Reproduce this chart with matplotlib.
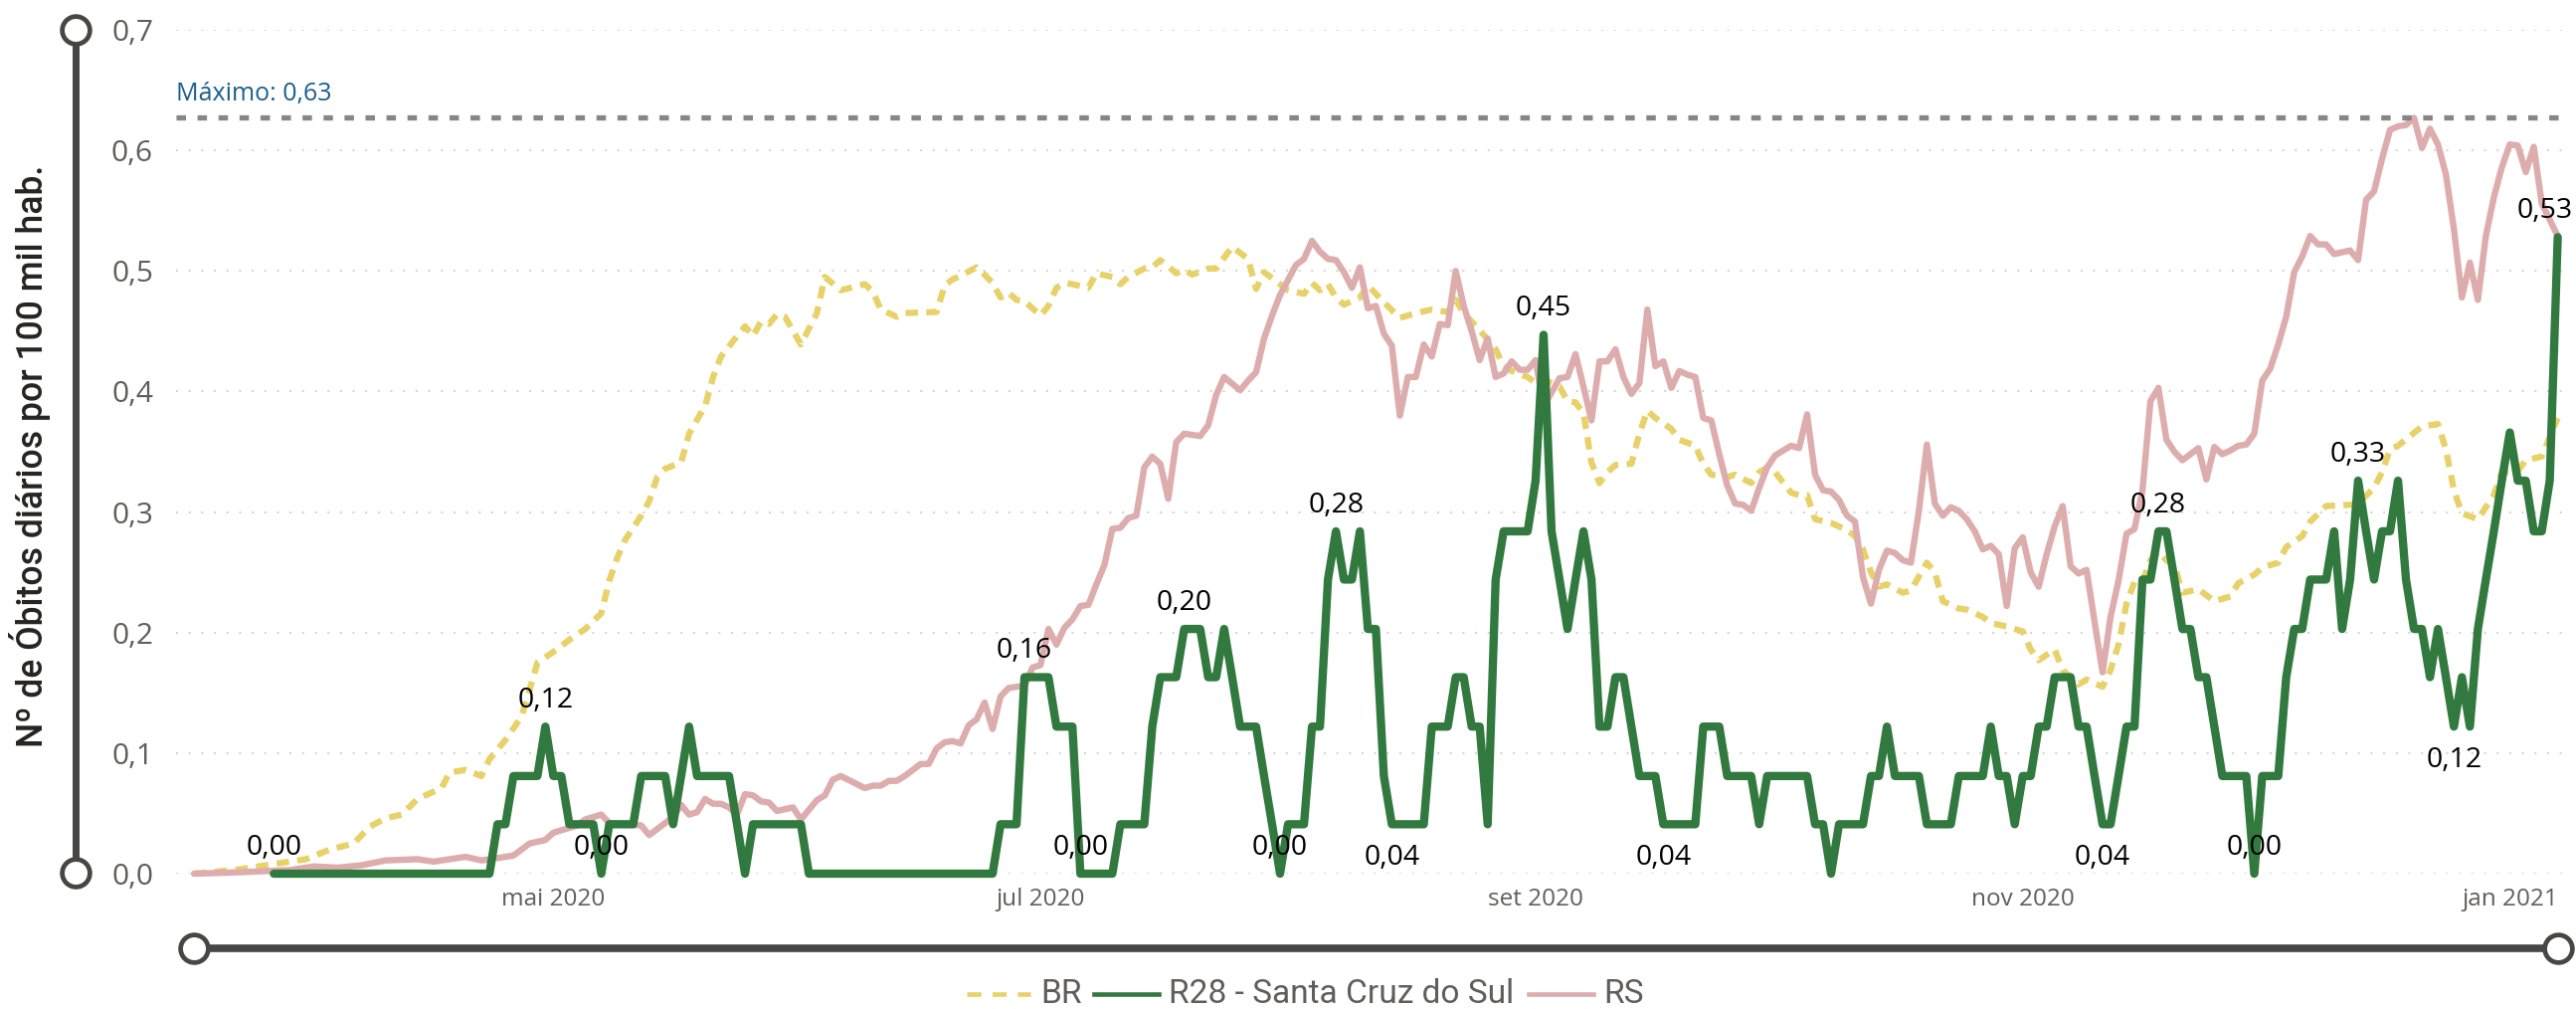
import matplotlib
matplotlib.use("Agg")
import matplotlib.pyplot as plt
from matplotlib.lines import Line2D
import numpy as np

W, H = 2590, 1014
START = np.datetime64("2020-03-17")

# ---------------- data ----------------
# R28 - Santa Cruz do Sul: daily values starting 2020-03-27 (day 10 after START)
r28_first_day = 10
r28 = [
    0, 0, 0, 0, 0, 0, 0, 0, 0, 0,
    0, 0, 0, 0, 0, 0, 0, 0, 0, 0,
    0, 0, 0, 0, 0, 0, 0, 0, 0.041, 0.041,
    0.081, 0.081, 0.081, 0.081, 0.122, 0.081, 0.081, 0.041, 0.041, 0.041,
    0.041, 0, 0.041, 0.041, 0.041, 0.041, 0.081, 0.081, 0.081, 0.081,
    0.041, 0.081, 0.122, 0.081, 0.081, 0.081, 0.081, 0.081, 0.041, 0,
    0.041, 0.041, 0.041, 0.041, 0.041, 0.041, 0.041, 0, 0, 0,
    0, 0, 0, 0, 0, 0, 0, 0, 0, 0,
    0, 0, 0, 0, 0, 0, 0, 0, 0, 0,
    0, 0.041, 0.041, 0.041, 0.163, 0.163, 0.163, 0.163, 0.122, 0.122,
    0.122, 0, 0, 0, 0, 0, 0.041, 0.041, 0.041, 0.041,
    0.122, 0.163, 0.163, 0.163, 0.203, 0.203, 0.203, 0.163, 0.163, 0.203,
    0.163, 0.122, 0.122, 0.122, 0.081, 0.041, 0, 0.041, 0.041, 0.041,
    0.122, 0.122, 0.244, 0.284, 0.244, 0.244, 0.284, 0.203, 0.203, 0.081,
    0.041, 0.041, 0.041, 0.041, 0.041, 0.122, 0.122, 0.122, 0.163, 0.163,
    0.122, 0.122, 0.041, 0.244, 0.284, 0.284, 0.284, 0.284, 0.326, 0.447,
    0.284, 0.244, 0.203, 0.244, 0.284, 0.244, 0.122, 0.122, 0.163, 0.163,
    0.122, 0.081, 0.081, 0.081, 0.041, 0.041, 0.041, 0.041, 0.041, 0.122,
    0.122, 0.122, 0.081, 0.081, 0.081, 0.081, 0.041, 0.081, 0.081, 0.081,
    0.081, 0.081, 0.081, 0.041, 0.041, 0, 0.041, 0.041, 0.041, 0.041,
    0.081, 0.081, 0.122, 0.081, 0.081, 0.081, 0.081, 0.041, 0.041, 0.041,
    0.041, 0.081, 0.081, 0.081, 0.081, 0.122, 0.081, 0.081, 0.041, 0.081,
    0.081, 0.122, 0.122, 0.163, 0.163, 0.163, 0.122, 0.122, 0.081, 0.041,
    0.041, 0.081, 0.122, 0.122, 0.244, 0.244, 0.284, 0.284, 0.244, 0.203,
    0.203, 0.163, 0.163, 0.122, 0.081, 0.081, 0.081, 0.081, 0, 0.081,
    0.081, 0.081, 0.163, 0.203, 0.203, 0.244, 0.244, 0.244, 0.284, 0.203,
    0.244, 0.326, 0.284, 0.244, 0.284, 0.284, 0.326, 0.244, 0.203, 0.203,
    0.163, 0.203, 0.163, 0.122, 0.163, 0.122, 0.203, 0.244, 0.284, 0.326,
    0.366, 0.326, 0.326, 0.284, 0.284, 0.326, 0.528,
]

# BR: (days after START, value)
br_day = [0, 5, 10, 14, 17, 20, 22, 24, 26, 28, 31, 32, 34, 36, 37, 39, 41, 42, 43, 45,
          47, 49, 51, 52, 53, 54, 56, 57, 58, 59, 61, 62, 64, 65, 66, 68, 69, 70, 71, 72,
          73, 74, 76, 78, 79, 81, 84, 85, 86, 88, 89, 93, 94, 95, 96, 98, 99, 100, 101, 102,
          103, 104, 106, 107, 108, 109, 110, 112, 113, 115, 116, 117, 119, 120, 121, 122, 123, 124, 125, 127,
          128, 130, 132, 133, 134, 136, 137, 139, 140, 141, 142, 143, 144, 146, 147, 149, 151, 153, 155, 157,
          158, 159, 160, 161, 163, 164, 165, 167, 168, 169, 171, 172, 173, 174, 175, 176, 177, 178, 180, 181,
          182, 183, 185, 186, 188, 189, 190, 192, 193, 195, 196, 197, 198, 200, 201, 202, 203, 205, 207, 208,
          209, 210, 211, 212, 214, 215, 217, 218, 219, 221, 222, 224, 225, 227, 229, 230, 231, 233, 234, 236,
          237, 239, 240, 241, 242, 243, 244, 245, 246, 247, 248, 249, 251, 253, 255, 256, 258, 259, 261, 262,
          264, 265, 267, 270, 271, 273, 274, 275, 276, 279, 281, 282, 283, 284, 286, 288, 289, 291, 292, 294,
          296]
br_val = [0.000, 0.003, 0.008, 0.012, 0.020, 0.025, 0.039, 0.046, 0.049, 0.062, 0.071, 0.084, 0.086, 0.081, 0.095, 0.111, 0.130, 0.152, 0.175, 0.184,
          0.194, 0.203, 0.216, 0.243, 0.262, 0.277, 0.297, 0.309, 0.329, 0.336, 0.341, 0.365, 0.388, 0.412, 0.429, 0.446, 0.454, 0.446, 0.458, 0.456,
          0.464, 0.462, 0.439, 0.465, 0.495, 0.484, 0.489, 0.483, 0.468, 0.462, 0.465, 0.466, 0.488, 0.493, 0.496, 0.503, 0.497, 0.490, 0.478, 0.482,
          0.476, 0.475, 0.463, 0.471, 0.486, 0.490, 0.489, 0.486, 0.498, 0.495, 0.489, 0.495, 0.502, 0.503, 0.509, 0.504, 0.498, 0.501, 0.497, 0.502,
          0.502, 0.520, 0.510, 0.485, 0.499, 0.489, 0.484, 0.481, 0.490, 0.484, 0.489, 0.478, 0.472, 0.478, 0.488, 0.474, 0.461, 0.465, 0.468, 0.466,
          0.476, 0.465, 0.458, 0.451, 0.435, 0.421, 0.417, 0.412, 0.407, 0.410, 0.404, 0.392, 0.391, 0.382, 0.341, 0.324, 0.333, 0.339, 0.340, 0.365,
          0.384, 0.378, 0.369, 0.360, 0.355, 0.340, 0.331, 0.329, 0.331, 0.324, 0.333, 0.337, 0.333, 0.316, 0.314, 0.314, 0.294, 0.291, 0.285, 0.280,
          0.269, 0.250, 0.238, 0.240, 0.233, 0.235, 0.258, 0.250, 0.226, 0.220, 0.219, 0.213, 0.208, 0.205, 0.201, 0.186, 0.177, 0.186, 0.169, 0.157,
          0.161, 0.155, 0.169, 0.190, 0.224, 0.242, 0.242, 0.260, 0.267, 0.260, 0.256, 0.233, 0.236, 0.226, 0.230, 0.241, 0.248, 0.254, 0.258, 0.271,
          0.280, 0.292, 0.305, 0.306, 0.307, 0.320, 0.333, 0.352, 0.355, 0.371, 0.373, 0.352, 0.318, 0.299, 0.294, 0.314, 0.333, 0.334, 0.343, 0.346,
          0.378]

# RS: (days after START, value)
rs_day = [0, 5, 12, 15, 18, 21, 24, 28, 30, 34, 36, 40, 42, 44, 45, 48, 49, 51, 52, 54,
          56, 57, 59, 60, 61, 62, 63, 64, 65, 66, 67, 68, 69, 70, 71, 72, 73, 75, 76, 78,
          79, 80, 81, 84, 85, 86, 87, 88, 89, 91, 92, 93, 94, 95, 96, 97, 98, 99, 100, 101,
          102, 104, 105, 106, 107, 108, 109, 110, 111, 112, 113, 114, 115, 116, 117, 118, 119, 120, 121, 122,
          123, 124, 126, 127, 128, 129, 131, 132, 133, 134, 135, 136, 138, 139, 140, 141, 142, 143, 144, 145,
          146, 147, 148, 149, 150, 151, 152, 153, 154, 155, 156, 157, 158, 159, 160, 161, 162, 163, 164, 165,
          166, 167, 168, 169, 170, 171, 172, 173, 174, 175, 176, 177, 178, 179, 180, 181, 182, 183, 184, 185,
          186, 187, 188, 189, 190, 191, 192, 193, 194, 195, 196, 197, 198, 200, 201, 202, 203, 204, 205, 206,
          207, 208, 209, 210, 211, 212, 213, 214, 215, 216, 217, 218, 219, 220, 221, 222, 223, 224, 225, 226,
          227, 228, 229, 230, 231, 232, 233, 234, 235, 236, 237, 238, 239, 240, 241, 242, 243, 244, 245, 246,
          247, 248, 249, 251, 252, 253, 254, 255, 256, 257, 258, 259, 260, 261, 262, 263, 264, 265, 266, 267,
          268, 270, 271, 272, 273, 274, 275, 276, 277, 278, 279, 280, 281, 282, 283, 284, 285, 286, 287, 288,
          289, 290, 291, 292, 293, 294, 296]
rs_val = [0.000, 0.001, 0.003, 0.006, 0.005, 0.007, 0.011, 0.012, 0.010, 0.014, 0.011, 0.015, 0.025, 0.028, 0.034, 0.040, 0.045, 0.049, 0.042, 0.041,
          0.040, 0.032, 0.042, 0.047, 0.057, 0.049, 0.051, 0.062, 0.058, 0.058, 0.055, 0.049, 0.066, 0.065, 0.060, 0.059, 0.052, 0.055, 0.045, 0.061,
          0.065, 0.078, 0.081, 0.071, 0.073, 0.073, 0.077, 0.077, 0.081, 0.091, 0.091, 0.104, 0.109, 0.110, 0.108, 0.123, 0.128, 0.142, 0.120, 0.147,
          0.154, 0.156, 0.171, 0.173, 0.203, 0.190, 0.204, 0.211, 0.222, 0.223, 0.240, 0.256, 0.286, 0.287, 0.295, 0.297, 0.337, 0.346, 0.340, 0.311,
          0.358, 0.365, 0.363, 0.372, 0.397, 0.412, 0.401, 0.409, 0.416, 0.444, 0.463, 0.480, 0.505, 0.510, 0.525, 0.516, 0.510, 0.509, 0.499, 0.486,
          0.503, 0.469, 0.471, 0.448, 0.438, 0.380, 0.412, 0.412, 0.439, 0.429, 0.456, 0.455, 0.500, 0.471, 0.450, 0.426, 0.444, 0.412, 0.415, 0.425,
          0.418, 0.418, 0.426, 0.388, 0.399, 0.411, 0.412, 0.431, 0.404, 0.376, 0.425, 0.425, 0.435, 0.412, 0.398, 0.407, 0.468, 0.421, 0.425, 0.403,
          0.417, 0.414, 0.412, 0.378, 0.376, 0.348, 0.322, 0.307, 0.306, 0.301, 0.320, 0.337, 0.347, 0.355, 0.353, 0.381, 0.331, 0.318, 0.317, 0.310,
          0.297, 0.292, 0.246, 0.224, 0.252, 0.268, 0.266, 0.260, 0.258, 0.301, 0.356, 0.307, 0.297, 0.304, 0.301, 0.294, 0.284, 0.269, 0.272, 0.265,
          0.222, 0.270, 0.279, 0.250, 0.238, 0.265, 0.288, 0.305, 0.255, 0.249, 0.252, 0.209, 0.167, 0.213, 0.243, 0.282, 0.286, 0.318, 0.392, 0.403,
          0.360, 0.350, 0.343, 0.353, 0.327, 0.354, 0.348, 0.351, 0.355, 0.356, 0.365, 0.409, 0.419, 0.439, 0.462, 0.499, 0.512, 0.529, 0.522, 0.522,
          0.514, 0.517, 0.509, 0.559, 0.566, 0.593, 0.617, 0.620, 0.621, 0.627, 0.602, 0.618, 0.605, 0.580, 0.535, 0.478, 0.507, 0.476, 0.529, 0.561,
          0.586, 0.605, 0.604, 0.582, 0.603, 0.556, 0.529]

# data labels on the R28 series (day after START, placement)
label_days = [10, 44, 51, 104, 111, 124, 136, 143, 150, 169, 184, 239, 246, 258, 271, 283, 296]
label_side = ["above", "above", "above", "above", "above", "above", "above", "above", "below",
              "above", "below", "below", "above", "above", "above", "below", "above"]

month_ticks = ["2020-05-01", "2020-07-01", "2020-09-01", "2020-11-01", "2021-01-01"]
month_labels = ["mai 2020", "jul 2020", "set 2020", "nov 2020", "jan 2021"]
y_ticks = [0.0, 0.1, 0.2, 0.3, 0.4, 0.5, 0.6, 0.7]
y_labels = ["0,0", "0,1", "0,2", "0,3", "0,4", "0,5", "0,6", "0,7"]
series_names = ["BR", "R28 - Santa Cruz do Sul", "RS"]

# ---------------- style ----------------
C_BR = "#E8D168"
C_R28 = "#31793F"
C_RS = "#DDADAD"
C_SLIDER = "#484644"
C_TICK = "#605E5C"
SEGOE = ["Open Sans", "DejaVu Sans"]
DIN = ["Roboto", "DejaVu Sans"]


def fx(x):
    return x / W


def fy(y):
    return 1 - y / H


def to_dates(days):
    return START + np.array(days, dtype="timedelta64[D]")


fig = plt.figure(figsize=(W / 100, H / 100), dpi=100)
ax = fig.add_axes([fx(177), fy(878), (2583 - 177) / W, (878 - 30) / H])

for s in ax.spines.values():
    s.set_visible(False)

ax.set_ylim(0, 0.7)
ax.set_xlim(START - np.timedelta64(54, "h"), START + np.timedelta64(297 * 24 + 10, "h"))

# gridlines
for yv in y_ticks:
    ax.axhline(yv, color="#C8C6C4", lw=1.1, dashes=(1.3, 7.0), zorder=1)

br_dates = to_dates(br_day)
rs_dates = to_dates(rs_day)
r28_dates = to_dates(list(range(r28_first_day, r28_first_day + len(r28))))

ax.plot(br_dates, br_val, color=C_BR, lw=4.5, dashes=(2.0, 1.35), dash_capstyle="butt",
        solid_joinstyle="round", zorder=2, clip_on=False)
ax.plot(rs_dates, rs_val, color=C_RS, lw=4.6, solid_joinstyle="round",
        solid_capstyle="round", zorder=3, clip_on=False)
ax.plot(r28_dates, r28, color=C_R28, lw=6.0, solid_joinstyle="round",
        solid_capstyle="round", zorder=4, clip_on=False)

# maximum line (max of RS)
rs_max = max(rs_val)
ax.axhline(rs_max, color="#808080", lw=3.8, dashes=(1.8, 2.2), zorder=5, alpha=0.95)
ax.annotate(("Máximo: %.2f" % rs_max).replace(".", ","), xy=(0, rs_max),
            xycoords=("axes fraction", "data"), xytext=(0, 17), textcoords="offset points",
            ha="left", va="center", fontsize=18, color="#1A5E8C", family=SEGOE)

# data labels
for d, side in zip(label_days, label_side):
    v = r28[d - r28_first_day]
    txt = ("%.2f" % v).replace(".", ",")
    dx = 0
    dy = 19 if side == "above" else -24
    if d == label_days[-1]:
        dx = -9
    ax.annotate(txt, xy=(to_dates([d])[0], v), xytext=(dx, dy), textcoords="offset points",
                ha="center", va="center", fontsize=20.5, color="#000000", family=SEGOE, zorder=6)

# ticks
ax.set_yticks(y_ticks)
ax.set_yticklabels(y_labels, family=SEGOE)
ax.set_xticks(np.array(month_ticks, dtype="datetime64[D]"))
ax.set_xticklabels(month_labels, family=SEGOE)
ax.tick_params(axis="y", length=0, pad=16.5, labelsize=21.5, labelcolor=C_TICK)
ax.tick_params(axis="x", length=0, pad=10, labelsize=17.5, labelcolor=C_TICK)

# slider decorations
fig.add_artist(Line2D([fx(76), fx(76)], [fy(30), fy(877)], lw=5, color=C_SLIDER,
                      transform=fig.transFigure, solid_capstyle="butt"))
fig.add_artist(Line2D([fx(76), fx(76)], [fy(30), fy(877)], lw=0, marker="o", ms=20,
                      mfc="white", mec=C_SLIDER, mew=3.4, transform=fig.transFigure))
fig.add_artist(Line2D([fx(195), fx(2572)], [fy(953), fy(953)], lw=5.5, color=C_SLIDER,
                      transform=fig.transFigure, solid_capstyle="butt"))
fig.add_artist(Line2D([fx(195), fx(2572)], [fy(953), fy(953)], lw=0, marker="o", ms=20,
                      mfc="white", mec=C_SLIDER, mew=3.4, transform=fig.transFigure))

# y axis title
ytitle = fig.text(fx(30), fy(458), "Nº de Óbitos diários por 100 mil hab.", rotation=90,
                  ha="center", va="center", fontsize=22, color="#252423", family=DIN,
                  weight="medium")

# legend (manual)
ly = fy(999)
fig.add_artist(Line2D([fx(972), fx(1036)], [ly, ly], color=C_BR, lw=3.3,
                      dashes=(3.1, 2.45), transform=fig.transFigure))
fig.add_artist(Line2D([fx(1100), fx(1165)], [ly, ly], color=C_R28, lw=3.3,
                      transform=fig.transFigure))
fig.add_artist(Line2D([fx(1537), fx(1602)], [ly, ly], color=C_RS, lw=3.3,
                      transform=fig.transFigure))
leg_texts = []
for xpos, name in zip([1046, 1175, 1612], series_names):
    leg_texts.append(fig.text(fx(xpos), ly, name, ha="left", va="center", fontsize=22,
                              color=C_TICK, family=DIN))

# fit some text sizes to measured widths
fig.canvas.draw()
r = fig.canvas.get_renderer()
bb = leg_texts[1].get_window_extent(r)
scale = 348.0 / bb.width
for t in leg_texts:
    t.set_fontsize(t.get_fontsize() * scale)
bb = ytitle.get_window_extent(r)
ytitle.set_fontsize(ytitle.get_fontsize() * 587.0 / bb.height)

fig.savefig("out.png", dpi=100)
